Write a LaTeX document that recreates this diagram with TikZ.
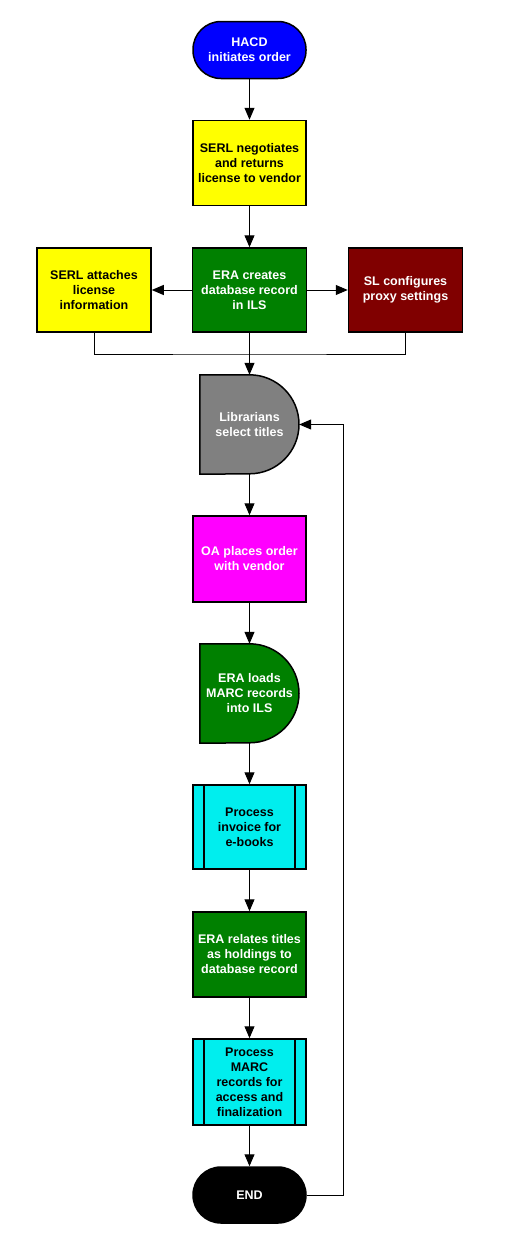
\documentclass[tikz,border=0pt]{standalone}
\usepackage{fontspec}
\setmainfont{Liberation Sans}
\usetikzlibrary{arrows.meta,calc}
\definecolor{cBlue}{RGB}{0,0,255}
\definecolor{cYellow}{RGB}{255,255,0}
\definecolor{cGreen}{RGB}{0,128,0}
\definecolor{cMaroon}{RGB}{128,0,0}
\definecolor{cGray}{RGB}{128,128,128}
\definecolor{cMagenta}{RGB}{255,0,255}
\definecolor{cCyan}{RGB}{0,238,238}
\tikzset{
  base/.style={draw=black, line width=1.5pt, align=center, inner sep=0pt,
    font=\fontsize{12.5}{15}\selectfont\bfseries},
  procbox/.style={base, rectangle, minimum width=113pt, minimum height=85pt},
  termbox/.style={base, rectangle, rounded corners=28pt, minimum width=113pt, minimum height=57pt},
  delaybox/.style={align=center, inner sep=0pt, minimum width=99pt, minimum height=99pt,
    font=\fontsize{12.5}{15}\selectfont\bfseries},
  subbox/.style={procbox, path picture={
    \draw[line width=1.5pt] ([xshift=11pt]path picture bounding box.north west) -- ([xshift=11pt]path picture bounding box.south west);
    \draw[line width=1.5pt] ([xshift=-11pt]path picture bounding box.north east) -- ([xshift=-11pt]path picture bounding box.south east);}},
  conn/.style={draw=black, line width=1pt},
  arr/.style={conn, -{Triangle[length=12pt,width=10pt]}},
}
\begin{document}
\begin{tikzpicture}[x=1pt,y=1pt]
\useasboundingbox (0,0) rectangle (507,-1250);
\node[termbox, fill=cBlue, text=white] (hacd) at (249.5,-50) {HACD\\initiates order};
\node[procbox, fill=cYellow, text=black] (serl1) at (249.5,-163) {SERL negotiates\\and returns\\license to vendor};
\node[procbox, fill=cGreen, text=white, minimum height=84pt, minimum width=114pt] (era1) at (249.5,-290) {ERA creates\\database record\\in ILS};
\node[procbox, fill=cYellow, text=black, minimum height=84pt, minimum width=114pt] (serl2) at (94,-290) {SERL attaches\\license\\information};
\node[procbox, fill=cMaroon, text=white, minimum height=84pt, minimum width=114pt] (sl) at (405.5,-290) {SL configures\\proxy settings};
\coordinate (mrg) at (249.5,-354);
% delay shape: Librarians
\node[delaybox, text=white] (lib) at (249.5,-424.5) {Librarians\\select titles};
\filldraw[fill=cGray, draw=black, line width=1.5pt] (lib.north west) -- (lib.north) arc[start angle=90, end angle=-90, radius=49.5pt] -- (lib.south west) -- cycle;
\node[delaybox, text=white] at (lib) {Librarians\\select titles};
\node[procbox, fill=cMagenta, text=white, minimum height=86pt] (oa) at (249.5,-559) {OA places order\\with vendor};
\node[delaybox, text=white] (eraload) at (249.5,-693.5) {ERA loads\\MARC records\\into ILS};
\filldraw[fill=cGreen, draw=black, line width=1.5pt] (eraload.north west) -- (eraload.north) arc[start angle=90, end angle=-90, radius=49.5pt] -- (eraload.south west) -- cycle;
\node[delaybox, text=white] at (eraload) {ERA loads\\MARC records\\into ILS};
\node[subbox, fill=cCyan, text=black, minimum height=84pt] (inv) at (249.5,-827) {Process\\invoice for\\e-books};
\node[procbox, fill=cGreen, text=white] (rel) at (249.5,-954.5) {ERA relates titles\\as holdings to\\database record};
\node[subbox, fill=cCyan, text=black, minimum height=86pt] (marc) at (249.5,-1082) {Process\\MARC\\records for\\access and\\finalization};
\node[termbox, fill=black, text=white, minimum height=56pt] (end) at (249.5,-1195) {END};
\coordinate (loopc) at (343,-1195);
% connectors
\draw[arr] (hacd) -- (serl1);
\draw[arr] (serl1) -- (era1);
\draw[arr] (era1) -- (serl2);
\draw[arr] (era1) -- (sl);
\draw[conn] (serl2.south) |- (mrg) -| (sl.south);
\draw[arr] (era1) -- (lib);
\draw[arr] (lib) -- (oa);
\draw[arr] (oa) -- (eraload);
\draw[arr] (eraload) -- (inv);
\draw[arr] (inv) -- (rel);
\draw[arr] (rel) -- (marc);
\draw[arr] (marc) -- (end);
\draw[arr] (end.east) -- (loopc) |- (lib.east);
\end{tikzpicture}
\end{document}
